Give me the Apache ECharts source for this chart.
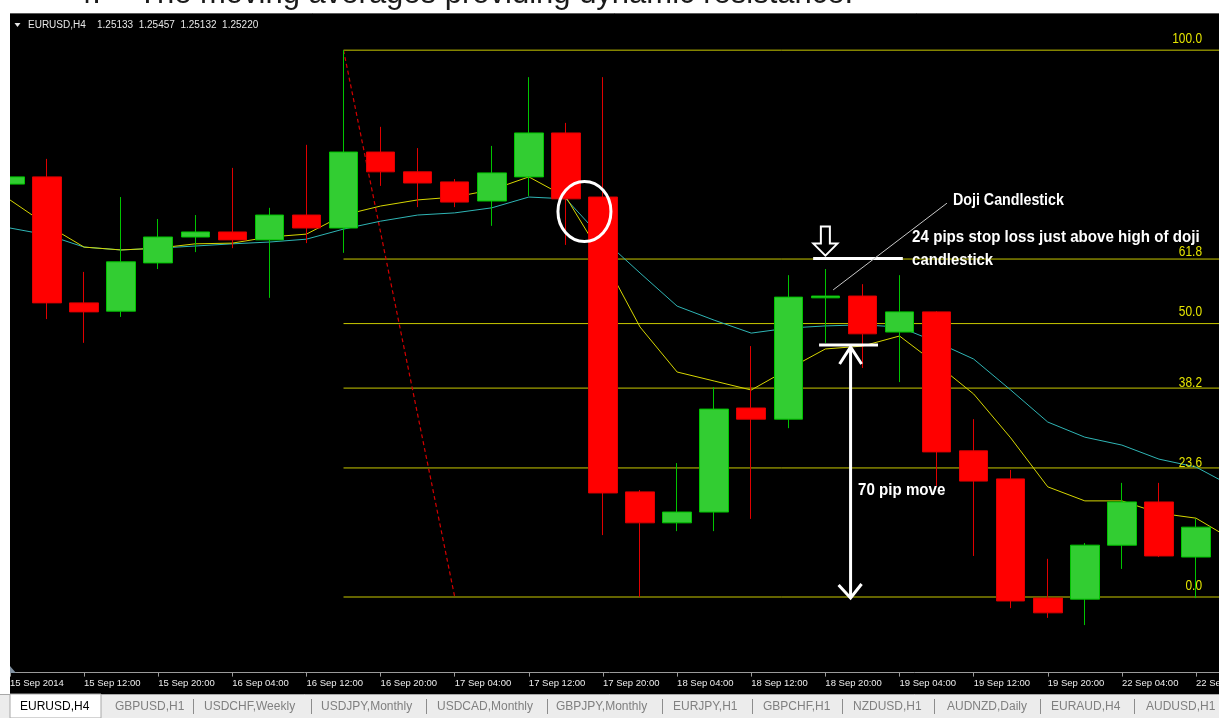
<!DOCTYPE html>
<html>
<head>
<meta charset="utf-8">
<title>EURUSD H4</title>
<script src="https://cdn.jsdelivr.net/npm/echarts/dist/echarts.min.js"></script>
<style>
  html, body { margin: 0; padding: 0; background: #ffffff; }
  #chart { width: 1219px; height: 718px; }
</style>
</head>
<body>
<div id="chart"></div>
<script>
// ---- EURUSD H4 bars, 15 Sep 04:00 .. 22 Sep 16:00 (2014) ----
const categories = [
  '15 Sep 2014', '15 Sep 08:00', '15 Sep 12:00', '15 Sep 16:00', '15 Sep 20:00',
  '16 Sep 00:00', '16 Sep 04:00', '16 Sep 08:00', '16 Sep 12:00', '16 Sep 16:00',
  '16 Sep 20:00', '17 Sep 00:00', '17 Sep 04:00', '17 Sep 08:00', '17 Sep 12:00',
  '17 Sep 16:00', '17 Sep 20:00', '18 Sep 00:00', '18 Sep 04:00', '18 Sep 08:00',
  '18 Sep 12:00', '18 Sep 16:00', '18 Sep 20:00', '19 Sep 00:00', '19 Sep 04:00',
  '19 Sep 08:00', '19 Sep 12:00', '19 Sep 16:00', '19 Sep 20:00', '22 Sep 00:00',
  '22 Sep 04:00', '22 Sep 08:00', '22 Sep 12:00', '22 Sep 16:00'
];

// [open, close, low, high]
const candles = [
  [1.29647, 1.29667, 1.29611, 1.29778],
  [1.29667, 1.29317, 1.29272, 1.29717],
  [1.29317, 1.29292, 1.29206, 1.29403],
  [1.29294, 1.29431, 1.29278, 1.29611],
  [1.29428, 1.29500, 1.29411, 1.29550],
  [1.29500, 1.29514, 1.29458, 1.29561],
  [1.29514, 1.29492, 1.29469, 1.29692],
  [1.29492, 1.29561, 1.29331, 1.29581],
  [1.29561, 1.29525, 1.29483, 1.29756],
  [1.29525, 1.29736, 1.29456, 1.30019],
  [1.29736, 1.29681, 1.29642, 1.29806],
  [1.29681, 1.29650, 1.29583, 1.29747],
  [1.29653, 1.29597, 1.29583, 1.29661],
  [1.29600, 1.29678, 1.29531, 1.29753],
  [1.29667, 1.29789, 1.29614, 1.29944],
  [1.29789, 1.29606, 1.29478, 1.29817],
  [1.29611, 1.28789, 1.28672, 1.29944],
  [1.28792, 1.28706, 1.28500, 1.28797],
  [1.28706, 1.28736, 1.28683, 1.28872],
  [1.28736, 1.29022, 1.28683, 1.29083],
  [1.29025, 1.28994, 1.28717, 1.29197],
  [1.28994, 1.29333, 1.28969, 1.29394],
  [1.29331, 1.29336, 1.29206, 1.29411],
  [1.29336, 1.29231, 1.29136, 1.29369],
  [1.29236, 1.29292, 1.29097, 1.29394],
  [1.29292, 1.28903, 1.28808, 1.29294],
  [1.28906, 1.28822, 1.28614, 1.28994],
  [1.28828, 1.28489, 1.28469, 1.28853],
  [1.28497, 1.28456, 1.28442, 1.28606],
  [1.28494, 1.28644, 1.28422, 1.28650],
  [1.28644, 1.28764, 1.28578, 1.28817],
  [1.28764, 1.28614, 1.28611, 1.28817],
  [1.28611, 1.28694, 1.28497, 1.28717],
  '-'
];

// moving averages (fast = yellow, slow = teal)
const maFast = [
  1.29603, 1.29533, 1.29472, 1.29464, 1.29469, 1.29481, 1.29483, 1.29500, 1.29508, 1.29561,
  1.29586, 1.29603, 1.29611, 1.29631, 1.29667, 1.29611, 1.29442, 1.29250, 1.29125, 1.29100,
  1.29075, 1.29133, 1.29189, 1.29197, 1.29225, 1.29147, 1.29064, 1.28942, 1.28806, 1.28767,
  1.28767, 1.28733, 1.28719, 1.28658
];
const maSlow = [
  1.29525, 1.29506, 1.29472, 1.29464, 1.29469, 1.29475, 1.29481, 1.29486, 1.29494, 1.29522,
  1.29544, 1.29561, 1.29567, 1.29581, 1.29611, 1.29606, 1.29494, 1.29400, 1.29308, 1.29269,
  1.29233, 1.29247, 1.29253, 1.29256, 1.29250, 1.29208, 1.29161, 1.29075, 1.28986, 1.28944,
  1.28922, 1.28883, 1.28861, 1.28806
];

// Fibonacci retracement: swing high (16 Sep 16:00) down to the low
const fibHigh = 1.30019;
const fibLow = 1.28500;
const fibStartIdx = 9;
const fibEndIdx = 12;
const fibLevels = [100, 61.8, 50, 38.2, 23.6, 0];
const fibLabels = ['100.0', '61.8', '50.0', '38.2', '23.6', '0.0'];

// trade idea on the doji
const entryPrice = 1.29200;
const stopPips = 24;
const movePips = 70;
const pip = 0.0001;

const quote = ['1.25133', '1.25457', '1.25132', '1.25220'];
const tabs = ['EURUSD,H4', 'GBPUSD,H1', 'USDCHF,Weekly', 'USDJPY,Monthly', 'USDCAD,Monthly',
  'GBPJPY,Monthly', 'EURJPY,H1', 'GBPCHF,H1', 'NZDUSD,H1', 'AUDNZD,Daily', 'EURAUD,H4', 'AUDUSD,H1'];

// ---- styles ----
const UI = "'Liberation Sans', Arial, sans-serif";
const FIB_COLOR = '#c8c800';
const LAST_IDX = categories.length - 0.5;

const fibPrice = lv => fibLow + (fibHigh - fibLow) * lv / 100;

const series = [];
// fib level lines
fibLevels.forEach(lv => {
  series.push({
    type: 'line', xAxisIndex: 1, yAxisIndex: 0, silent: true, symbol: 'none', z: 1,
    lineStyle: { color: FIB_COLOR, width: 1 },
    data: [[fibStartIdx, fibPrice(lv)], [LAST_IDX, fibPrice(lv)]]
  });
});
// fib trend line
series.push({
  type: 'line', xAxisIndex: 1, yAxisIndex: 0, silent: true, symbol: 'none', z: 1,
  lineStyle: { color: '#d40000', width: 1.2, type: [4, 3] },
  data: [[fibStartIdx, fibHigh], [fibEndIdx, fibLow]]
});
series.push({
  type: 'line', xAxisIndex: 0, yAxisIndex: 0, symbol: 'none', silent: true, z: 1,
  lineStyle: { color: '#2fb5b5', width: 1 }, data: maSlow
});
series.push({
  type: 'line', xAxisIndex: 0, yAxisIndex: 0, symbol: 'none', silent: true, z: 1,
  lineStyle: { color: '#d6d600', width: 1 }, data: maFast
});
series.push({
  type: 'candlestick', xAxisIndex: 0, yAxisIndex: 0, barWidth: 29, z: 3,
  itemStyle: {
    color: '#32cd32', color0: '#ff0000',
    borderColor: '#00c400', borderColor0: '#e00000', borderWidth: 1
  },
  data: candles
});

const chart = echarts.init(document.getElementById('chart'), null, { renderer: 'canvas', width: 1219, height: 718 });

chart.setOption({
  animation: false,
  backgroundColor: '#000000',
  grid: { left: -8.59, right: -32.62, top: 13.8, height: 658.8, containLabel: false, outerBoundsMode: 'none' },
  xAxis: [
    {
      type: 'category', data: categories, boundaryGap: true,
      axisLine: { show: true, lineStyle: { color: '#9a9a9a', width: 1 } },
      axisTick: { show: true, alignWithLabel: true, interval: 1, length: 4, lineStyle: { color: '#9a9a9a' } },
      axisLabel: {
        show: true, interval: 1, align: 'left', margin: 6,
        color: '#ececec', fontFamily: UI, fontSize: 9.5
      },
      splitLine: { show: false }
    },
    { type: 'value', min: -0.5, max: categories.length - 0.5, show: false }
  ],
  yAxis: [{ type: 'value', min: 1.2829, max: 1.3012, show: false, splitLine: { show: false } }],
  series: series
});

// ---- overlays: chrome, fib labels, annotations ----
const P = (i, p) => chart.convertToPixel({ xAxisIndex: 1, yAxisIndex: 0 }, [i, p]);
const g = [];
const Z = 50;

// fib level labels (right edge, just above each line)
const fibLabelDy = [-11, -7, -11, -5, -5, -11];
fibLevels.forEach((lv, k) => {
  const y = P(0, fibPrice(lv))[1];
  g.push({ type: 'text', z: Z, x: 1202, y: y + fibLabelDy[k], scaleX: 0.85,
    style: { text: fibLabels[k], fill: '#e4e400', font: '14px ' + UI, align: 'right', verticalAlign: 'middle' } });
});

// circle around the MA cross
const c = P(15.5, 1.29571);
g.push({ type: 'ellipse', z: Z, shape: { cx: c[0], cy: c[1], rx: 26.5, ry: 30 },
  style: { fill: null, stroke: '#ffffff', lineWidth: 3 } });

// stop-loss level above the doji
const stopPrice = entryPrice + stopPips * pip;
const targetPrice = entryPrice - movePips * pip;
const s1 = P(21.67, stopPrice), s2 = P(24.09, stopPrice);
g.push({ type: 'line', z: Z, shape: { x1: s1[0], y1: s1[1], x2: s2[0], y2: s2[1] }, style: { stroke: '#ffffff', lineWidth: 3 } });
// hollow arrow pointing at the stop line
const tip = P(22.0, stopPrice);
const tx = tip[0], ty = tip[1] - 3;
g.push({ type: 'polygon', z: Z, shape: { points: [
  [tx, ty], [tx - 12, ty - 12], [tx - 4.5, ty - 12], [tx - 4.5, ty - 29],
  [tx + 4.5, ty - 29], [tx + 4.5, ty - 12], [tx + 12, ty - 12]] },
  style: { fill: '#000000', stroke: '#ffffff', lineWidth: 2 } });

// entry line under the doji
const e1 = P(21.83, entryPrice), e2 = P(23.42, entryPrice);
g.push({ type: 'line', z: Z, shape: { x1: e1[0], y1: e1[1], x2: e2[0], y2: e2[1] }, style: { stroke: '#ffffff', lineWidth: 3 } });

// measured move arrow: entry -> target
const a1 = P(22.68, entryPrice), a2 = P(22.68, targetPrice);
g.push({ type: 'line', z: Z, shape: { x1: a1[0], y1: a1[1] + 2, x2: a2[0], y2: a2[1] + 1 }, style: { stroke: '#ffffff', lineWidth: 3 } });
g.push({ type: 'polyline', z: Z, shape: { points: [[a1[0] - 11, a1[1] + 19], [a1[0], a1[1] + 2], [a1[0] + 11, a1[1] + 19]] },
  style: { stroke: '#ffffff', lineWidth: 3, fill: null } });
g.push({ type: 'polyline', z: Z, shape: { points: [[a2[0] - 12, a2[1] - 12], [a2[0], a2[1] + 1], [a2[0] + 11, a2[1] - 13]] },
  style: { stroke: '#ffffff', lineWidth: 3, fill: null } });

// leader line to the doji label
const l1 = P(22.21, 1.29353), l2 = P(25.28, 1.29594);
g.push({ type: 'line', z: Z, shape: { x1: l1[0], y1: l1[1], x2: l2[0], y2: l2[1] }, style: { stroke: '#c8c8c8', lineWidth: 1 } });

const annFont = 'bold 17px ' + UI;
const annText = (i, p, text, sx) => {
  const q = P(i, p);
  g.push({ type: 'text', z: Z, x: q[0], y: q[1], scaleX: sx,
    style: { text: text, fill: '#ffffff', font: annFont, align: 'left', verticalAlign: 'middle' } });
};
annText(25.44, 1.29601, 'Doji Candlestick', 0.84);
annText(24.34, 1.29499, '24 pips stop loss just above high of doji', 0.89);
annText(24.34, 1.29436, 'candlestick', 0.875);
annText(22.88, 1.28796, '70 pip move', 0.89);

// window chrome: page strip on top, left margin, tab bar
g.push({ type: 'rect', z: 90, shape: { x: 0, y: 0, width: 1219, height: 13 }, style: { fill: '#ffffff' } });
g.push({ type: 'text', z: 91, x: 75, y: -5.5, style: { text: '4.', fill: '#1a1a1a', font: '31px ' + UI, verticalAlign: 'middle' } });
g.push({ type: 'text', z: 91, x: 138, y: -5.5, style: { text: 'The moving averages providing dynamic resistance.', fill: '#1a1a1a', font: '31px ' + UI, verticalAlign: 'middle' } });
g.push({ type: 'rect', z: 90, shape: { x: 0, y: 0, width: 10, height: 718 }, style: { fill: '#ffffff' } });
g.push({ type: 'line', z: 91, shape: { x1: 10, y1: 13.5, x2: 1219, y2: 13.5 }, style: { stroke: '#5a5a5a', lineWidth: 1 } });

// symbol header
g.push({ type: 'polygon', z: 91, shape: { points: [[14.5, 23], [20.5, 23], [17.5, 27]] }, style: { fill: '#e6e6e6' } });
g.push({ type: 'text', z: 91, x: 28, y: 25, style: { text: 'EURUSD,H4', fill: '#e6e6e6', font: '10px ' + UI, verticalAlign: 'middle' } });
g.push({ type: 'text', z: 91, x: 97, y: 25, style: { text: quote.join('  '), fill: '#e6e6e6', font: '10px ' + UI, verticalAlign: 'middle' } });

// shift marker at the bottom-left of the price pane
g.push({ type: 'polygon', z: 91, shape: { points: [[10, 666], [10, 673], [16, 673]] }, style: { fill: '#8090a0' } });

// tab bar
g.push({ type: 'rect', z: 90, shape: { x: 0, y: 694, width: 1219, height: 24 }, style: { fill: '#ececec' } });
g.push({ type: 'line', z: 91, shape: { x1: 0, y1: 694.5, x2: 1219, y2: 694.5 }, style: { stroke: '#a8a8a8', lineWidth: 1 } });
g.push({ type: 'rect', z: 91, shape: { x: 10, y: 694, width: 91, height: 24 }, style: { fill: '#ffffff', stroke: '#a8a8a8', lineWidth: 1 } });
const tabX = [20, 115, 204, 321, 437, 556, 673, 763, 853, 947, 1051, 1146];
const sepX = [193, 311, 426, 547, 662, 752, 842, 934, 1040, 1134];
tabs.forEach((t, k) => {
  g.push({ type: 'text', z: 92, x: tabX[k], y: 706.5, style: { text: t, fill: k === 0 ? '#000000' : '#808080', font: '12px ' + UI, verticalAlign: 'middle' } });
});
sepX.forEach(x => {
  g.push({ type: 'line', z: 92, shape: { x1: x + 0.5, y1: 699, x2: x + 0.5, y2: 714 }, style: { stroke: '#8c8c8c', lineWidth: 1 } });
});

chart.setOption({ graphic: { elements: g } });
</script>
</body>
</html>
